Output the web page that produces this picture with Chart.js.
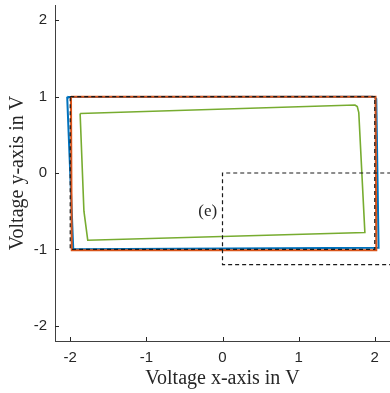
<!DOCTYPE html>
<html><head><meta charset="utf-8">
<script src="https://cdn.jsdelivr.net/npm/chart.js@4/dist/chart.umd.min.js"></script>
<style>html,body{margin:0;padding:0;background:#fff;}#wrap{width:390px;height:393px;}</style>
</head><body><div id="wrap"><canvas id="c" width="390" height="393"></canvas></div>
<script>
// Axis ticks
const xTicks = [-2, -1, 0, 1, 2];
const yTicks = [-2, -1, 0, 1, 2];
// Series (closed loops)
const blueX = [-2.04, -2.03, 1.97, 2.00, 2.02, 2.05, -1.96, -2.04];
const blueY = [1.00, 0.995, 1.00, 0.99, 0.97, -0.98, -1.00, 1.00];
const orangeX = [-1.99, 2.01, 2.02, -1.98, -1.99];
const orangeY = [1.00, 1.00, -1.01, -1.01, 1.00];
const refX = [-2, 2, 2, -2, -2];
const refY = [1, 1, -1, -1, 1];
const greenX = [-1.87, 1.74, 1.77, 1.79, 1.87, -1.77, -1.82, -1.87];
const greenY = [0.78, 0.89, 0.87, 0.79, -0.78, -0.88, -0.50, 0.78];
const zoomX = [2.4, 0, 0, 2.4];
const zoomY = [0, 0, -1.2, -1.2];
const zoomLabel = "(e)";
const zoomLabelPos = [-0.07, -0.5];

const pts = (xs, ys) => xs.map((x, i) => ({x: x, y: ys[i]}));
const ds = (xs, ys, color, dash, w, order) => ({data: pts(xs, ys), showLine: true, borderColor: color, borderWidth: w, borderDash: dash, pointRadius: 0, fill: false, tension: 0, order: order});

const inwardTicks = {
  id: 'inwardTicks',
  afterDraw(chart) {
    const ctx = chart.ctx, xs = chart.scales.x, ys = chart.scales.y, a = chart.chartArea;
    ctx.save();
    ctx.strokeStyle = '#262626'; ctx.lineWidth = 1;
    ctx.beginPath();
    xTicks.forEach(v => { const p = Math.round(xs.getPixelForValue(v)) + 0.5; ctx.moveTo(p, a.bottom); ctx.lineTo(p, a.bottom - 4); });
    yTicks.forEach(v => { const p = Math.round(ys.getPixelForValue(v)) + 0.5; ctx.moveTo(a.left, p); ctx.lineTo(a.left + 4, p); });
    ctx.stroke();
    ctx.fillStyle = '#262626';
    ctx.font = '17px "Liberation Serif"';
    ctx.textAlign = 'right'; ctx.textBaseline = 'middle';
    ctx.fillText(zoomLabel, xs.getPixelForValue(zoomLabelPos[0]), ys.getPixelForValue(zoomLabelPos[1]));
    ctx.restore();
  }
};

new Chart(document.getElementById('c'), {
  type: 'scatter',
  data: { datasets: [
    ds(blueX, blueY, '#0072BD', [], 2, 5),
    ds(orangeX, orangeY, '#D95319', [], 2, 4),
    ds(greenX, greenY, '#77AC30', [], 1.6, 3),
    ds(refX, refY, '#1a1a1a', [4, 3], 1.2, 2),
    ds(zoomX, zoomY, '#1a1a1a', [4, 3], 1.2, 1)
  ]},
  options: {
    responsive: false, animation: false,
    layout: { padding: { top: 5, right: 0, left: 0, bottom: 0 } },
    plugins: { legend: { display: false }, tooltip: { enabled: false } },
    scales: {
      x: {
        type: 'linear', min: -2.2, max: 2.2,
        afterBuildTicks: s => { s.ticks = xTicks.map(v => ({value: v})); },
        afterFit: s => { s.height = 52; s.paddingLeft = 0; s.paddingRight = 0; },
        grid: { drawOnChartArea: false, drawTicks: false },
        border: { color: '#404040', width: 1 },
        ticks: { color: '#262626', font: { family: '"Liberation Sans"', size: 15 }, padding: 8, maxRotation: 0 },
        title: { display: true, text: 'Voltage x-axis in V', color: '#262626', font: { family: '"Liberation Serif"', size: 20 }, padding: { top: 0, bottom: 2 } }
      },
      y: {
        type: 'linear', min: -2.2, max: 2.2,
        afterBuildTicks: s => { s.ticks = yTicks.map(v => ({value: v})); },
        afterFit: s => { s.width = 55; s.paddingTop = 0; s.paddingBottom = 0; },
        grid: { drawOnChartArea: false, drawTicks: false },
        border: { color: '#404040', width: 1 },
        ticks: { color: '#262626', font: { family: '"Liberation Sans"', size: 15 }, padding: 8 },
        title: { display: true, text: 'Voltage y-axis in V', color: '#262626', font: { family: '"Liberation Serif"', size: 20 }, padding: { top: 6, bottom: 0 } }
      }
    }
  },
  plugins: [inwardTicks]
});
</script></body></html>
